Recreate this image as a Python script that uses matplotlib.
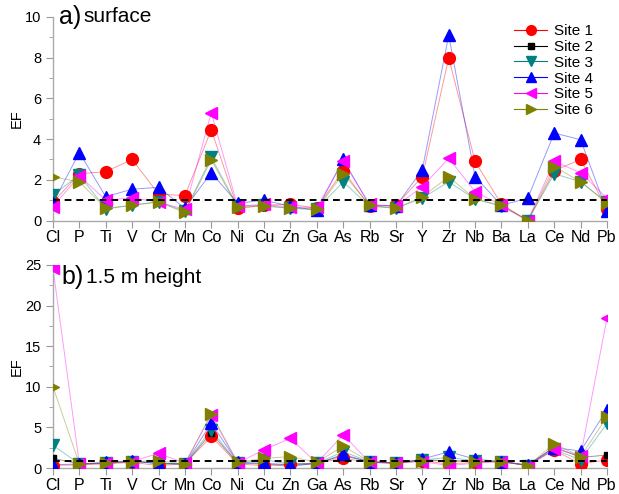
import numpy as np
import matplotlib
matplotlib.use("Agg")
import matplotlib.pyplot as plt
from matplotlib.lines import Line2D
from matplotlib.ticker import MultipleLocator

plt.rcParams['font.family'] = ['Liberation Sans', 'DejaVu Sans']

elements = ['Cl', 'P', 'Ti', 'V', 'Cr', 'Mn', 'Co', 'Ni', 'Cu', 'Zn', 'Ga',
            'As', 'Rb', 'Sr', 'Y', 'Zr', 'Nb', 'Ba', 'La', 'Ce', 'Nd', 'Pb']
sites = ['Site 1', 'Site 2', 'Site 3', 'Site 4', 'Site 5', 'Site 6']

# enrichment factors, surface samples (no surface sample at site 2)
surf_site1 = [0.9, 2.3, 2.4, 3.0, 1.3, 1.22, 4.46, 0.6, 0.75, 0.8, 0.6,
              2.45, 0.7, 0.75, 2.15, 8.0, 2.9, 0.8, 0.0, 2.45, 3.0, 0.55]
surf_site2 = [np.nan] * 22
surf_site3 = [1.25, 2.24, 0.57, 0.75, 0.93, 0.45, 3.1, 0.7, 0.75, 0.6, 0.55,
              1.9, 0.7, 0.6, 1.1, 1.9, 1.05, 0.7, 0.0, 2.3, 1.9, 0.9]
surf_site4 = [0.86, 3.34, 1.17, 1.54, 1.63, 0.6, 2.35, 0.85, 1.0, 0.7, 0.5,
              3.0, 0.75, 0.7, 2.5, 9.1, 2.15, 0.75, 1.1, 4.3, 3.97, 0.45]
surf_site5 = [0.68, 2.2, 1.0, 1.12, 0.9, 0.55, 5.3, 0.7, 0.8, 0.65, 0.65,
              2.9, 0.8, 0.7, 1.67, 3.06, 1.42, 0.75, 0.0, 2.9, 2.35, 1.1]
surf_site6 = [2.15, 1.9, 0.6, 0.75, 0.9, 0.4, 2.98, 0.65, 0.7, 0.6, 0.55,
              2.3, 0.75, 0.6, 1.17, 2.15, 1.06, 0.75, 0.0, 2.65, 1.9, 0.85]

# enrichment factors at 1.5 m height
h15_site1 = [0.3, 0.4, 0.5, 0.7, 0.3, 0.5, 3.9, 0.5, 0.3, 0.5, 0.6,
             1.2, 0.7, 0.6, 0.9, 0.5, 0.7, 0.8, 0.3, 2.2, 0.5, 1.0]
h15_site2 = [1.2, 0.5, 0.6, 0.8, 0.6, 0.5, 4.3, 0.6, 0.5, 0.2, 0.6,
             1.5, 0.8, 0.6, 1.0, 0.9, 0.8, 0.8, 0.3, 2.6, 1.3, 1.6]
h15_site3 = [2.8, 0.5, 0.6, 0.8, 0.6, 0.5, 4.7, 0.6, 1.0, 0.5, 0.6,
             2.0, 0.8, 0.6, 1.0, 1.3, 0.9, 0.8, 0.3, 2.3, 1.0, 5.5]
h15_site4 = [0.4, 0.5, 0.7, 0.9, 0.5, 0.5, 5.5, 0.7, 0.6, 0.4, 0.5,
             1.7, 0.7, 0.6, 1.1, 2.0, 1.1, 0.8, 0.4, 2.5, 2.1, 7.2]
h15_site5 = [24.6, 0.5, 0.6, 0.8, 1.8, 0.6, 6.5, 0.6, 2.25, 3.65, 0.6,
             4.1, 0.7, 0.6, 0.8, 0.3, 0.6, 0.8, 0.3, 2.4, 1.5, 18.5]
h15_site6 = [10.0, 0.5, 0.6, 0.8, 0.9, 0.5, 6.7, 0.7, 1.2, 1.4, 0.7,
             2.7, 0.8, 0.6, 0.9, 0.9, 0.8, 0.8, 0.3, 3.0, 1.4, 6.3]

surface = [surf_site1, surf_site2, surf_site3, surf_site4, surf_site5, surf_site6]
height = [h15_site1, h15_site2, h15_site3, h15_site4, h15_site5, h15_site6]

colors = ['#ff0000', '#000000', '#008080', '#0000ff', '#ff00ff', '#808000']
markers = ['o', 's', 'v', '^', '<', '>']
msizes = [8.5, 5, 8.5, 9, 9, 9]

fig = plt.figure(figsize=(6.19, 4.94), dpi=100)
ax_a = fig.add_axes([0.0856, 0.5536, 0.895, 0.412])
ax_b = fig.add_axes([0.0856, 0.0526, 0.895, 0.411])

x = np.arange(len(elements))


def draw_panel(ax, data, ymax, major, ref):
    for vals, c, m, ms in zip(data, colors, markers, msizes):
        ax.plot(x, vals, color=c, lw=0.7, alpha=0.4, zorder=2)
        ax.plot(x, vals, ls='none', marker=m, ms=ms, color=c,
                markeredgecolor=c, zorder=3)
    ax.axhline(ref, color='black', ls=(0, (3.5, 2.5)), lw=1.4, zorder=4)
    ax.set_xlim(0, len(elements) - 1)
    ax.set_ylim(0, ymax)
    ax.set_xticks(x)
    ax.set_xticklabels(elements, fontsize=11.5)
    ax.yaxis.set_major_locator(MultipleLocator(major))
    ax.yaxis.set_minor_locator(MultipleLocator(major / 2))
    ax.tick_params(axis='y', labelsize=10.5, direction='out', length=5,
                   color='#999999', width=0.8)
    ax.tick_params(axis='y', which='minor', length=3, color='#999999')
    ax.tick_params(axis='x', direction='out', length=5, color='#999999',
                   width=0.8, pad=2)
    for side in ['top', 'right']:
        ax.spines[side].set_visible(False)
    for side in ['left', 'bottom']:
        ax.spines[side].set_color('#aaaaaa')
        ax.spines[side].set_linewidth(1.0)
    ax.set_ylabel('EF', fontsize=10.5, labelpad=1)


draw_panel(ax_a, surface, 10, 2, 1.0)
draw_panel(ax_b, height, 25, 5, 0.85)

ax_a.text(0.01, 1.0, 'a)', transform=ax_a.transAxes, fontsize=18,
          va='center', ha='left')
ax_a.text(0.055, 1.0, 'surface', transform=ax_a.transAxes, fontsize=15,
          va='center', ha='left')
ax_b.text(0.015, 0.94, 'b)', transform=ax_b.transAxes, fontsize=18,
          va='center', ha='left')
ax_b.text(0.06, 0.94, '1.5 m height', transform=ax_b.transAxes, fontsize=15,
          va='center', ha='left')

handles = [Line2D([0], [0], color=c, lw=0.8, marker=m, ms=min(ms, 7) if m != 's' else 4.5,
                  markerfacecolor=c, markeredgecolor=c)
           for c, m, ms in zip(colors, markers, msizes)]
ax_a.legend(handles, sites, loc='upper right', bbox_to_anchor=(0.985, 0.995),
            frameon=False, fontsize=11, handlelength=2.2, handletextpad=0.4,
            labelspacing=0.12, borderaxespad=0)

fig.savefig('out.png', dpi=100)
